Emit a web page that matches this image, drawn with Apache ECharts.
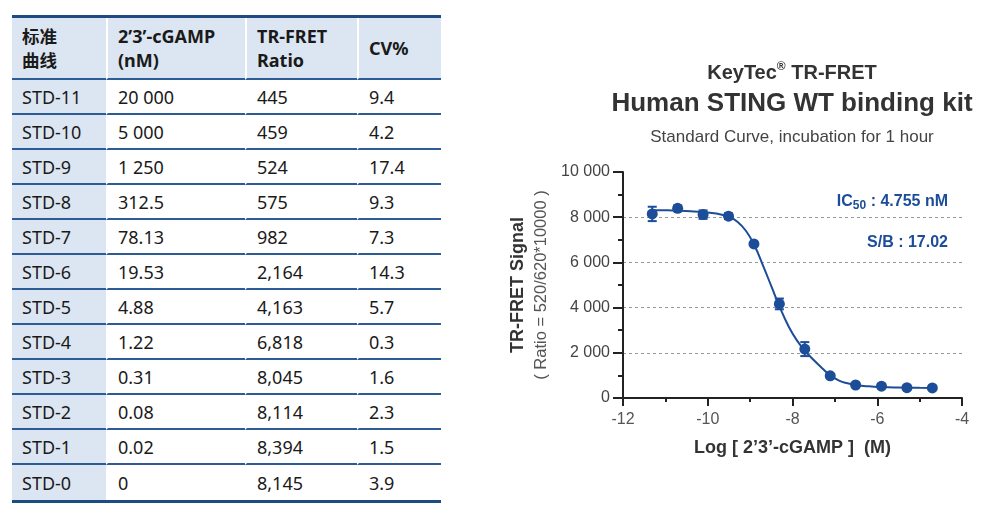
<!DOCTYPE html>
<html>
<head>
<meta charset="utf-8">
<script src="https://cdn.jsdelivr.net/npm/echarts@6/dist/echarts.min.js"></script>
<style>
  html, body { margin: 0; padding: 0; background: #fff; }
  .wrap { position: relative; width: 995px; height: 520px; overflow: hidden; }
  .std-table {
    position: absolute; left: 12px; top: 15px; width: 429px;
    border-collapse: separate; border-spacing: 0; table-layout: fixed;
    border-top: 3px solid #1f4a82; border-bottom: 3px solid #1f4a82;
    font-family: "Noto Sans", "Noto Sans CJK SC", sans-serif; font-size: 18px; color: #1a1a1a;
  }
  .std-table th, .std-table td {
    box-sizing: border-box; padding: 0 0 0 10px; text-align: left; vertical-align: middle;
    height: 35px; border-bottom: 2px solid #2d5b96; border-left: 2px solid #fff;
    white-space: nowrap;
  }
  .std-table th { height: 62px; line-height: 24px; font-weight: bold; background: #dce6f2; }
  .std-table th:first-child { font-family: "Noto Sans CJK SC", sans-serif; font-size: 17.5px; }
  .std-table th:first-child, .std-table td:first-child { border-left: none; }
  .std-table td:first-child { background: #dce6f2; }
  .std-table tr:last-child td { border-bottom: none; }
  #chart { position: absolute; left: 460px; top: 0; width: 535px; height: 520px; }
</style>
</head>
<body>
<div class="wrap">
  <table class="std-table" id="stdTable">
    <colgroup>
      <col style="width:94px"><col style="width:139px"><col style="width:112px"><col style="width:84px">
    </colgroup>
    <thead>
      <tr><th>标准<br>曲线</th><th>2’3’-cGAMP<br>(nM)</th><th>TR-FRET<br>Ratio</th><th>CV%</th></tr>
    </thead>
    <tbody></tbody>
  </table>
  <div id="chart"></div>
</div>
<script>
// 标准曲线数据（表格）
const stdNames = ['STD-11', 'STD-10', 'STD-9', 'STD-8', 'STD-7', 'STD-6', 'STD-5', 'STD-4', 'STD-3', 'STD-2', 'STD-1', 'STD-0']
const concNM = [20000, 5000, 1250, 312.5, 78.13, 19.53, 4.88, 1.22, 0.31, 0.08, 0.02, 0]
const ratios = [445, 459, 524, 575, 982, 2164, 4163, 6818, 8045, 8114, 8394, 8145]
const cvs = [9.4, 4.2, 17.4, 9.3, 7.3, 14.3, 5.7, 0.3, 1.6, 2.3, 1.5, 3.9]

// 图中横坐标 Log[M]（STD-0 画在 -11.3）
const logConc = [-4.70, -5.30, -5.90, -6.51, -7.11, -7.71, -8.31, -8.91, -9.51, -10.11, -10.71, -11.31]

// 拟合曲线
const fitX = [-11.3, -11.0, -10.7, -10.4, -10.1, -9.8, -9.5, -9.3, -9.1, -8.9, -8.7, -8.5, -8.3, -8.1, -7.9, -7.7, -7.5, -7.3, -7.1, -6.9, -6.7, -6.5, -6.2, -5.9, -5.5, -5.0, -4.7]
const fitY = [8312, 8305, 8290, 8265, 8225, 8160, 8020, 7800, 7400, 6760, 5880, 4950, 4020, 3200, 2560, 2080, 1680, 1320, 990, 770, 650, 575, 515, 482, 462, 450, 447]

const icText = ['IC', '50', ' : 4.755 nM']
const sbText = 'S/B : 17.02'

// 定义颜色
const blue = '#1c4d98'
const axisColor = '#222'

const spaceGroup = (v) => {
  const parts = String(v).split('.')
  parts[0] = parts[0].replace(/\B(?=(\d{3})+(?!\d))/g, ' ')
  return parts.join('.')
}

// 表格
const tbody = document.querySelector('#stdTable tbody')
stdNames.forEach((name, i) => {
  const tr = document.createElement('tr')
  const cells = [name, spaceGroup(concNM[i]), ratios[i].toLocaleString('en-US'), cvs[i].toFixed(1)]
  cells.forEach(c => {
    const td = document.createElement('td')
    td.textContent = c
    tr.appendChild(td)
  })
  tbody.appendChild(tr)
})

// 1.初始化echarts
const myChart = echarts.init(document.getElementById('chart'))

const points = logConc.map((x, i) => [x, ratios[i]])
const errBars = logConc.map((x, i) => {
  const sd = ratios[i] * cvs[i] / 100
  return [x, ratios[i] - sd, ratios[i] + sd]
})
const fitLine = fitX.map((x, i) => [x, fitY[i]])

const font = '"Liberation Sans", Arial, sans-serif'

// 2.配置option
const option = {
  animation: false,
  textStyle: { fontFamily: font },
  grid: { left: 163, right: 33, top: 172, bottom: 122 },
  graphic: [
    {
      type: 'text', x: 332, y: 73,
      style: {
        text: '{a|KeyTec}{r|®}{a| TR-FRET}',
        align: 'center', verticalAlign: 'middle',
        rich: {
          a: { fontSize: 20, fontWeight: 'bold', fontFamily: font, fill: '#333', lineHeight: 24 },
          r: { fontSize: 12, fontWeight: 'bold', fontFamily: font, fill: '#333', lineHeight: 12, verticalAlign: 'top' }
        }
      }
    },
    {
      type: 'text', x: 332, y: 104,
      style: {
        text: 'Human STING WT binding kit', align: 'center', verticalAlign: 'middle',
        font: 'bold 26px ' + font, fill: '#333'
      }
    },
    {
      type: 'text', x: 332, y: 137,
      style: {
        text: 'Standard Curve, incubation for 1 hour', align: 'center', verticalAlign: 'middle',
        font: '17px ' + font, fill: '#444'
      }
    },
    {
      type: 'text', x: 488, y: 202,
      style: {
        text: '{b|' + icText[0] + '}{s|' + icText[1] + '}{b|' + icText[2] + '}',
        align: 'right', verticalAlign: 'middle',
        rich: {
          b: { fontSize: 16, fontWeight: 'bold', fontFamily: font, fill: blue, lineHeight: 20 },
          s: { fontSize: 12, fontWeight: 'bold', fontFamily: font, fill: blue, lineHeight: 12, verticalAlign: 'bottom' }
        }
      }
    },
    {
      type: 'text', x: 488, y: 243,
      style: {
        text: sbText, align: 'right', verticalAlign: 'middle',
        font: 'bold 16px ' + font, fill: blue
      }
    }
  ],
  xAxis: {
    type: 'value',
    min: -12, max: -4, interval: 2,
    name: 'Log [ 2’3’-cGAMP ]  (M)',
    nameLocation: 'middle',
    nameGap: 41,
    nameTextStyle: { fontSize: 18, fontWeight: 'bold', color: '#333', fontFamily: font },
    axisLine: { show: true, onZero: false, lineStyle: { color: axisColor, width: 2 } },
    axisTick: { show: true, length: 8, lineStyle: { color: axisColor, width: 2 } },
    minorTick: { show: true, splitNumber: 2, length: 4, lineStyle: { color: axisColor, width: 2 } },
    axisLabel: { fontSize: 16, color: '#555', margin: 14, fontFamily: font },
    splitLine: { show: false }
  },
  yAxis: {
    type: 'value',
    min: 0, max: 10000, interval: 2000,
    name: '{a|TR-FRET Signal}\n{b|( Ratio = 520/620*10000 )}',
    nameLocation: 'middle',
    nameRotate: 90,
    nameGap: 70,
    nameTextStyle: {
      rich: {
        a: { fontSize: 18, fontWeight: 'bold', color: '#333', fontFamily: font, lineHeight: 26 },
        b: { fontSize: 16.5, color: '#555', fontFamily: font, lineHeight: 22 }
      }
    },
    axisLine: { show: true, onZero: false, lineStyle: { color: axisColor, width: 2 } },
    axisTick: { show: true, length: 10, lineStyle: { color: axisColor, width: 2 } },
    minorTick: { show: true, splitNumber: 2, length: 5, lineStyle: { color: axisColor, width: 2 } },
    axisLabel: {
      fontSize: 16, color: '#444', margin: 13, fontFamily: font,
      formatter: (v) => spaceGroup(v)
    },
    splitLine: {
      show: true, showMinLine: false, showMaxLine: false,
      lineStyle: { color: '#999', width: 1, type: [3, 3] }
    }
  },
  series: [
    {
      type: 'line',
      data: fitLine,
      smooth: 0.5,
      showSymbol: false,
      lineStyle: { color: blue, width: 2 },
      z: 2
    },
    {
      type: 'custom',
      data: errBars,
      renderItem: (params, api) => {
        const x = api.value(0)
        const lo = api.coord([x, api.value(1)])
        const hi = api.coord([x, api.value(2)])
        const hw = 4.5
        const st = { stroke: blue, lineWidth: 2 }
        return {
          type: 'group',
          children: [
            { type: 'line', shape: { x1: lo[0], y1: lo[1], x2: hi[0], y2: hi[1] }, style: st },
            { type: 'line', shape: { x1: hi[0] - hw, y1: hi[1], x2: hi[0] + hw, y2: hi[1] }, style: st },
            { type: 'line', shape: { x1: lo[0] - hw, y1: lo[1], x2: lo[0] + hw, y2: lo[1] }, style: st }
          ]
        }
      },
      z: 3
    },
    {
      type: 'scatter',
      data: points,
      symbol: 'circle',
      symbolSize: 11,
      itemStyle: { color: blue, opacity: 1 },
      z: 4
    }
  ]
}

// 3.将配置项给实例
myChart.setOption(option, true)
</script>
</body>
</html>
